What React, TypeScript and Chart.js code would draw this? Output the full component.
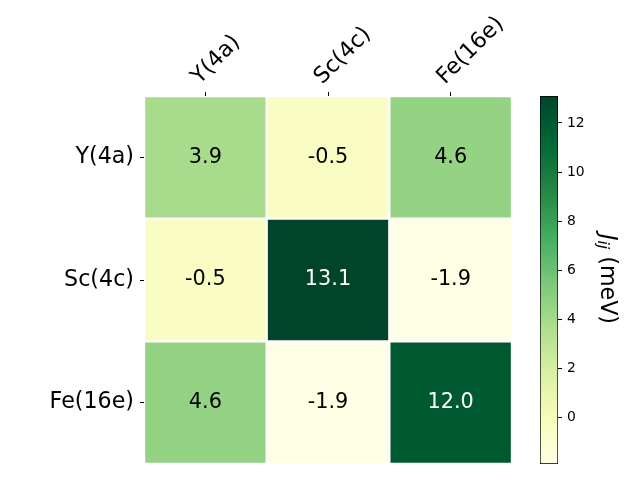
import React, { useEffect, useRef } from 'react';
import { Chart, registerables } from 'chart.js';

Chart.register(...registerables);

const siteLabels = ['Y(4a)', 'Sc(4c)', 'Fe(16e)'];
const rowY4a = [3.9, -0.5, 4.6];
const rowSc4c = [-0.5, 13.1, -1.9];
const rowFe16e = [4.6, -1.9, 12.0];
const jRows = [rowY4a, rowSc4c, rowFe16e];
const rowTickValues = [0.5, 1.5, 2.5];
const colorbarTicks = [0, 2, 4, 6, 8, 10, 12];
const vMin = -1.9;
const vMax = 13.1;
const ylgn = ['#ffffe5', '#f7fcb9', '#d9f0a3', '#addd8e', '#78c679', '#41ab5d', '#238443', '#006837', '#004529'];

const FONT = "'DejaVu Sans', sans-serif";
const LABEL_SIZE = 22.2;
const CELL_SIZE = 20.8;
const CB_TICK_SIZE = 13.9;

function hexToRgb(h: string): number[] {
  return [parseInt(h.slice(1, 3), 16), parseInt(h.slice(3, 5), 16), parseInt(h.slice(5, 7), 16)];
}

function cmapRgb(t: number): number[] {
  const tt = Math.max(0, Math.min(1, t));
  const n = ylgn.length - 1;
  const pos = tt * n;
  const i = Math.min(n - 1, Math.floor(pos));
  const f = pos - i;
  const a = hexToRgb(ylgn[i]);
  const b = hexToRgb(ylgn[i + 1]);
  return [0, 1, 2].map((k) => Math.round(a[k] + (b[k] - a[k]) * f));
}

function norm(v: number) {
  return (v - vMin) / (vMax - vMin);
}

function cmap(v: number): string {
  const c = cmapRgb(norm(v));
  return `rgb(${c[0]},${c[1]},${c[2]})`;
}

function textColorFor(v: number): string {
  const c = cmapRgb(norm(v));
  const lum = (0.299 * c[0] + 0.587 * c[1] + 0.114 * c[2]) / 255;
  return lum < 0.45 ? '#ffffff' : '#000000';
}

const annotationPlugin = {
  id: 'cellText',
  afterDatasetsDraw(chart: any) {
    const ctx = chart.ctx;
    ctx.save();
    ctx.font = `${CELL_SIZE}px ${FONT}`;
    ctx.textAlign = 'center';
    ctx.textBaseline = 'middle';
    chart.data.datasets.forEach((ds: any, r: number) => {
      const meta = chart.getDatasetMeta(r);
      meta.data.forEach((bar: any, c: number) => {
        const v = jRows[r][c];
        const props = bar.getProps(['x', 'y', 'base'], true);
        ctx.fillStyle = textColorFor(v);
        ctx.fillText(v.toFixed(1), props.x, (props.y + props.base) / 2);
      });
    });
    ctx.restore();
  },
};

const colorbarTitlePlugin = {
  id: 'cbTitle',
  afterDraw(chart: any) {
    const ctx = chart.ctx;
    const area = chart.chartArea;
    const cx = 607;
    const cy = (area.top + area.bottom) / 2 - 1;
    ctx.save();
    ctx.translate(cx, cy);
    ctx.rotate(Math.PI / 2);
    ctx.fillStyle = '#000';
    ctx.textBaseline = 'middle';
    ctx.textAlign = 'left';
    const fJ = `italic ${LABEL_SIZE}px ${FONT}`;
    const fSub = `italic ${(LABEL_SIZE * 0.7).toFixed(1)}px ${FONT}`;
    const fRest = `${LABEL_SIZE}px ${FONT}`;
    ctx.font = fJ;
    const wJ = ctx.measureText('J').width;
    ctx.font = fSub;
    const wSub = ctx.measureText('ij').width;
    ctx.font = fRest;
    const wRest = ctx.measureText(' (meV)').width;
    const total = wJ + wSub + wRest;
    let x = -total / 2;
    ctx.font = fJ;
    ctx.fillText('J', x, 0);
    x += wJ;
    ctx.font = fSub;
    ctx.fillText('ij', x, 5);
    x += wSub;
    ctx.font = fRest;
    ctx.fillText(' (meV)', x, 0);
    ctx.restore();
  },
};

export default function App() {
  const mainRef = useRef<HTMLCanvasElement>(null);
  const cbRef = useRef<HTMLCanvasElement>(null);

  useEffect(() => {
    document.body.style.margin = '0';
    const tickGrid = {
      display: true,
      drawOnChartArea: false,
      drawTicks: true,
      tickLength: 4,
      color: '#000000',
      lineWidth: 1,
      offset: false,
    };
    const noPad = (s: any) => {
      s.paddingTop = 0;
      s.paddingBottom = 0;
      s.paddingLeft = 0;
      s.paddingRight = 0;
    };

    const main = new Chart(mainRef.current!, {
      type: 'bar',
      data: {
        labels: siteLabels,
        datasets: jRows.map((row, r) => ({
          data: row.map(() => [r, r + 1]),
          backgroundColor: row.map((v) => cmap(v)),
          borderColor: '#ffffff',
          borderWidth: 1.5,
          borderSkipped: false,
          barPercentage: 1,
          categoryPercentage: 1,
          grouped: false,
        })),
      } as any,
      options: {
        animation: false,
        responsive: false,
        maintainAspectRatio: false,
        layout: { padding: { left: 0, top: 0, right: 128, bottom: 16 } },
        plugins: { legend: { display: false }, tooltip: { enabled: false } },
        scales: {
          x: {
            type: 'category',
            position: 'top',
            offset: true,
            grid: tickGrid,
            border: { display: false },
            ticks: {
              maxRotation: 45,
              minRotation: 45,
              color: '#000000',
              padding: 2,
              labelOffset: 9,
              font: { family: FONT, size: LABEL_SIZE },
            },
            afterFit: (s: any) => {
              s.height = 96;
              noPad(s);
            },
          },
          y: {
            type: 'linear',
            min: 0,
            max: 3,
            reverse: true,
            grid: tickGrid,
            border: { display: false },
            afterBuildTicks: (s: any) => {
              s.ticks = rowTickValues.map((v) => ({ value: v }));
            },
            ticks: {
              color: '#000000',
              padding: 6,
              font: { family: FONT, size: LABEL_SIZE },
              callback: (v: any) => siteLabels[Math.floor(Number(v))],
            },
            afterFit: (s: any) => {
              s.width = 144;
              noPad(s);
            },
          },
        },
      } as any,
      plugins: [annotationPlugin],
    });

    const cb = new Chart(cbRef.current!, {
      type: 'bar',
      data: {
        labels: [''],
        datasets: [
          {
            data: [[vMin, vMax]],
            backgroundColor: (c: any) => {
              const area = c.chart.chartArea;
              if (!area) return ylgn[0];
              const g = c.chart.ctx.createLinearGradient(0, area.bottom, 0, area.top);
              ylgn.forEach((col, i) => g.addColorStop(i / (ylgn.length - 1), col));
              return g;
            },
            borderColor: '#000000',
            borderWidth: 1,
            borderSkipped: false,
            barPercentage: 1,
            categoryPercentage: 1,
          },
        ],
      } as any,
      options: {
        animation: false,
        responsive: false,
        maintainAspectRatio: false,
        layout: { padding: { left: 540, right: 42, top: 96, bottom: 16 } },
        plugins: { legend: { display: false }, tooltip: { enabled: false } },
        scales: {
          x: { display: false, offset: true },
          y: {
            type: 'linear',
            position: 'right',
            min: vMin,
            max: vMax,
            grid: { ...tickGrid },
            border: { display: false },
            afterBuildTicks: (s: any) => {
              s.ticks = colorbarTicks.map((v) => ({ value: v }));
            },
            ticks: {
              color: '#000000',
              padding: 5,
              font: { family: FONT, size: CB_TICK_SIZE },
            },
            afterFit: (s: any) => {
              s.width = 40;
              noPad(s);
            },
          },
        },
      } as any,
      plugins: [colorbarTitlePlugin],
    });

    return () => {
      main.destroy();
      cb.destroy();
    };
  }, []);

  return (
    <div style={{ position: 'relative', width: 640, height: 480 }}>
      <canvas ref={mainRef} width={640} height={480} style={{ position: 'absolute', left: 0, top: 0 }} />
      <canvas ref={cbRef} width={640} height={480} style={{ position: 'absolute', left: 0, top: 0 }} />
    </div>
  );
}
